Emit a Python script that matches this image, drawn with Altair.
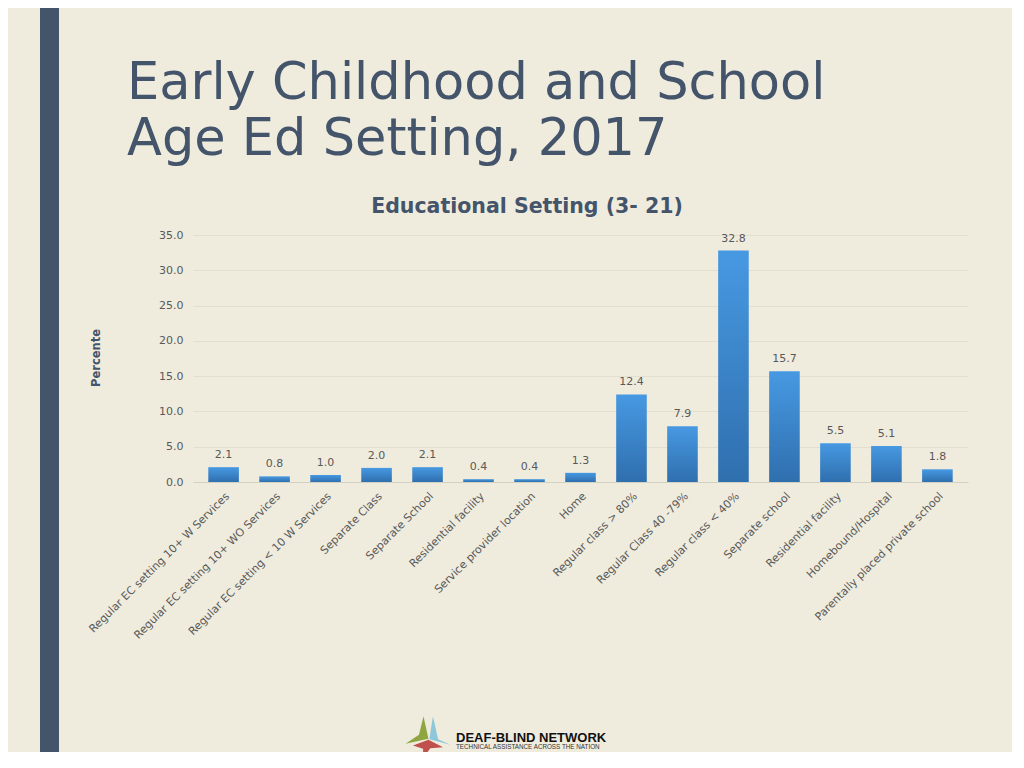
import altair as alt
import pandas as pd

categories = [
    "Regular EC setting 10+ W Services",
    "Regular EC setting 10+ WO Services",
    "Regular EC setting < 10 W Services",
    "Separate Class",
    "Separate School",
    "Residential facility",
    "Service provider location",
    "Home",
    "Regular class > 80%",
    "Regular Class 40 -79%",
    "Regular class < 40%",
    "Separate school",
    "Residential facility ",
    "Homebound/Hospital",
    "Parentally placed private school",
]
values = [2.1, 0.8, 1.0, 2.0, 2.1, 0.4, 0.4, 1.3, 12.4, 7.9, 32.8, 15.7, 5.5, 5.1, 1.8]
y_ticks = [0, 5, 10, 15, 20, 25, 30, 35]

title_lines = ["Early Childhood and School", "Age Ed Setting, 2017"]
chart_title = "Educational Setting (3- 21)"
y_title = "Percente"
logo_name = "DEAF-BLIND NETWORK"
logo_tag = "TECHNICAL ASSISTANCE ACROSS THE NATION"

df = pd.DataFrame({"cat": categories, "val": values})

BG = "#EFECDE"
SLATE = "#44546A"
GRAY = "#595959"

x_axis = alt.Axis(
    labelAngle=315,
    labelFont="DejaVu Sans",
    labelFontSize=11,
    labelColor=GRAY,
    labelLimit=400,
    labelPadding=8,
    ticks=False,
    domainColor="#D3D0C4",
    grid=False,
)
y_axis = alt.Axis(
    values=y_ticks,
    tickCount=8,
    format=".1f",
    labelFont="DejaVu Sans",
    labelFontSize=11,
    labelColor=GRAY,
    labelPadding=10,
    labelOverlap=False,
    labelFlush=False,
    ticks=False,
    domain=False,
    grid=True,
    gridColor="#E2DFD1",
    gridWidth=1,
)
x_scale = alt.Scale(paddingInner=0.4, paddingOuter=0.3)
y_scale = alt.Scale(domain=[0, 35], nice=False)

base = alt.Chart(df)

bars = base.mark_bar(
    color=alt.LinearGradient(
        gradient="linear",
        stops=[
            alt.GradientStop(color="#4799E2", offset=0),
            alt.GradientStop(color="#2F6FAE", offset=1),
        ],
        x1=0, x2=0, y1=0, y2=1,
    )
).encode(
    x=alt.X("cat:N", sort=categories, title=None, scale=x_scale, axis=x_axis),
    y=alt.Y("val:Q", title=None, scale=y_scale, axis=y_axis),
)

labels = base.mark_text(
    font="DejaVu Sans", fontSize=11, color=GRAY, dy=-9, baseline="alphabetic"
).encode(
    x=alt.X("cat:N", sort=categories, title=None, scale=x_scale, axis=x_axis),
    y=alt.Y("val:Q", title=None, scale=y_scale, axis=y_axis),
    text=alt.Text("val:Q", format=".1f"),
)

one = alt.Data(values=[{"k": 1}])

side_bar = alt.Chart(one).mark_rect(color=SLATE).encode(
    x=alt.value(-153), x2=alt.value(-134), y=alt.value(-240), y2=alt.value(540)
)

big_title = alt.Chart(one).mark_text(
    text=title_lines, font="DejaVu Sans", fontSize=51, color=SLATE,
    align="left", baseline="alphabetic", lineHeight=56,
).encode(x=alt.value(-66), y=alt.value(-136))

sub_title = alt.Chart(one).mark_text(
    text=chart_title, font="DejaVu Sans", fontWeight="bold", fontSize=20.5, color=SLATE,
    align="center", baseline="alphabetic",
).encode(x=alt.value(334), y=alt.value(-22))

ytitle = alt.Chart(one).mark_text(
    text=y_title, font="DejaVu Sans", fontWeight="bold", fontSize=11.5, color=SLATE,
    align="center", baseline="middle", angle=270,
).encode(x=alt.value(-96), y=alt.value(123))

# logo
green = "M-0.2,-0.92 L0.02,0.08 L-1,0.3 L-0.4,-0.1 Z"
blue = "M0.22,-0.92 L0.45,0.1 L1,0.34 L0.06,0.1 Z"
red = "M-0.67,0.38 L0.02,0.12 L0.67,0.46 L0.1,0.5 L-0.21,0.94 L-0.22,0.52 Z"
logo_parts = []
for shp, col in [(green, "#8FA640"), (blue, "#8CC8DA"), (red, "#C0504D")]:
    logo_parts.append(
        alt.Chart(one).mark_point(shape=shp, filled=True, size=2025, color=col, opacity=1, strokeWidth=0)
        .encode(x=alt.value(235), y=alt.value(502))
    )

logo_text = alt.Chart(one).mark_text(
    text=logo_name, font="Liberation Sans", fontWeight="bold", fontSize=13, color="#111111",
    align="left", baseline="alphabetic",
).encode(x=alt.value(263), y=alt.value(507))
logo_sub = alt.Chart(one).mark_text(
    text=logo_tag, font="Liberation Sans", fontSize=6.3, color="#333333",
    align="left", baseline="alphabetic",
).encode(x=alt.value(263), y=alt.value(514))

chart = alt.layer(
    side_bar, bars, labels, big_title, sub_title, ytitle, *logo_parts, logo_text, logo_sub
).properties(
    width=775,
    height=247,
    autosize=alt.AutoSizeParams(type="none"),
    padding={"left": 185, "top": 227, "right": 44, "bottom": 270},
    background=BG,
).configure_view(stroke=None)

chart.save("out.html", embed_options={"renderer": "svg", "actions": False})
